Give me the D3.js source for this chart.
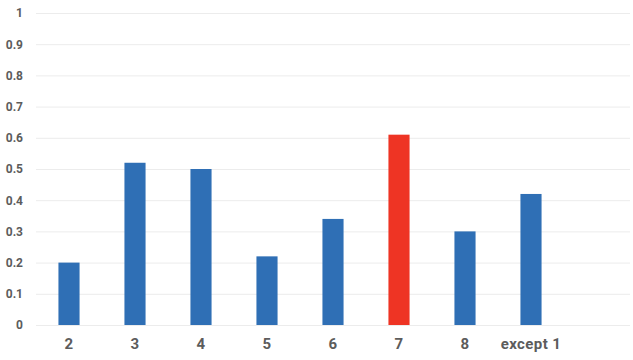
<!DOCTYPE html>
<html>
<head>
<meta charset="utf-8">
<script src="https://cdn.jsdelivr.net/npm/d3@7"></script>
<style>
  body { margin: 0; background: #fff; }
  text { font-family: Roboto, "Liberation Sans", sans-serif; font-weight: bold; fill: #5c5c5c; }
</style>
</head>
<body>
<div id="BarChart"></div>
<script>
// chart data
const categories = ["2", "3", "4", "5", "6", "7", "8", "except 1"];
const values = [0.20, 0.52, 0.50, 0.22, 0.34, 0.61, 0.30, 0.42];
const highlight = "7";
const yTicks = [0, 0.1, 0.2, 0.3, 0.4, 0.5, 0.6, 0.7, 0.8, 0.9, 1];

const totalW = 633, totalH = 360;
const margin = { top: 13, right: 3, bottom: 35, left: 36 };
const width = totalW - margin.left - margin.right;
const height = totalH - margin.top - margin.bottom;
const step = width / 9;

const x = d3.scaleBand()
    .domain(categories)
    .range([0, step * categories.length])
    .paddingInner(0.68)
    .paddingOuter(0.34);

const y = d3.scaleLinear()
    .domain([0, 1])
    .range([height, 0]);

const svg = d3.select("#BarChart")
    .append("svg")
        .attr("width", totalW)
        .attr("height", totalH)
    .append("g")
        .attr("transform", `translate(${margin.left},${margin.top})`);

// gridlines
svg.selectAll(".yGrid")
    .data(yTicks)
    .join("line")
    .attr("x1", 0)
    .attr("x2", width)
    .attr("y1", d => y(d) + 0.5)
    .attr("y2", d => y(d) + 0.5)
    .attr("stroke", "#ececec")
    .attr("stroke-width", 1);

// y axis
const yAxis = svg.append("g")
    .call(d3.axisLeft(y).tickValues(yTicks).tickSize(0).tickPadding(13).tickFormat(d => d3.format("")(+d.toFixed(1))));
yAxis.select(".domain").remove();
yAxis.selectAll("text").style("font-size", "12px");

// x axis
const xAxis = svg.append("g")
    .attr("transform", `translate(0,${height})`)
    .call(d3.axisBottom(x).tickSize(0).tickPadding(13));
xAxis.select(".domain").remove();
xAxis.selectAll("text").style("font-size", "15px").style("letter-spacing", "0.4px");

// bars
svg.selectAll(".bar")
    .data(categories)
    .join("rect")
    .attr("x", d => x(d))
    .attr("width", x.bandwidth())
    .attr("y", (d, i) => y(values[i]))
    .attr("height", (d, i) => height - y(values[i]))
    .attr("fill", d => d === highlight ? "#ee3424" : "#2f6fb5");
</script>
</body>
</html>
